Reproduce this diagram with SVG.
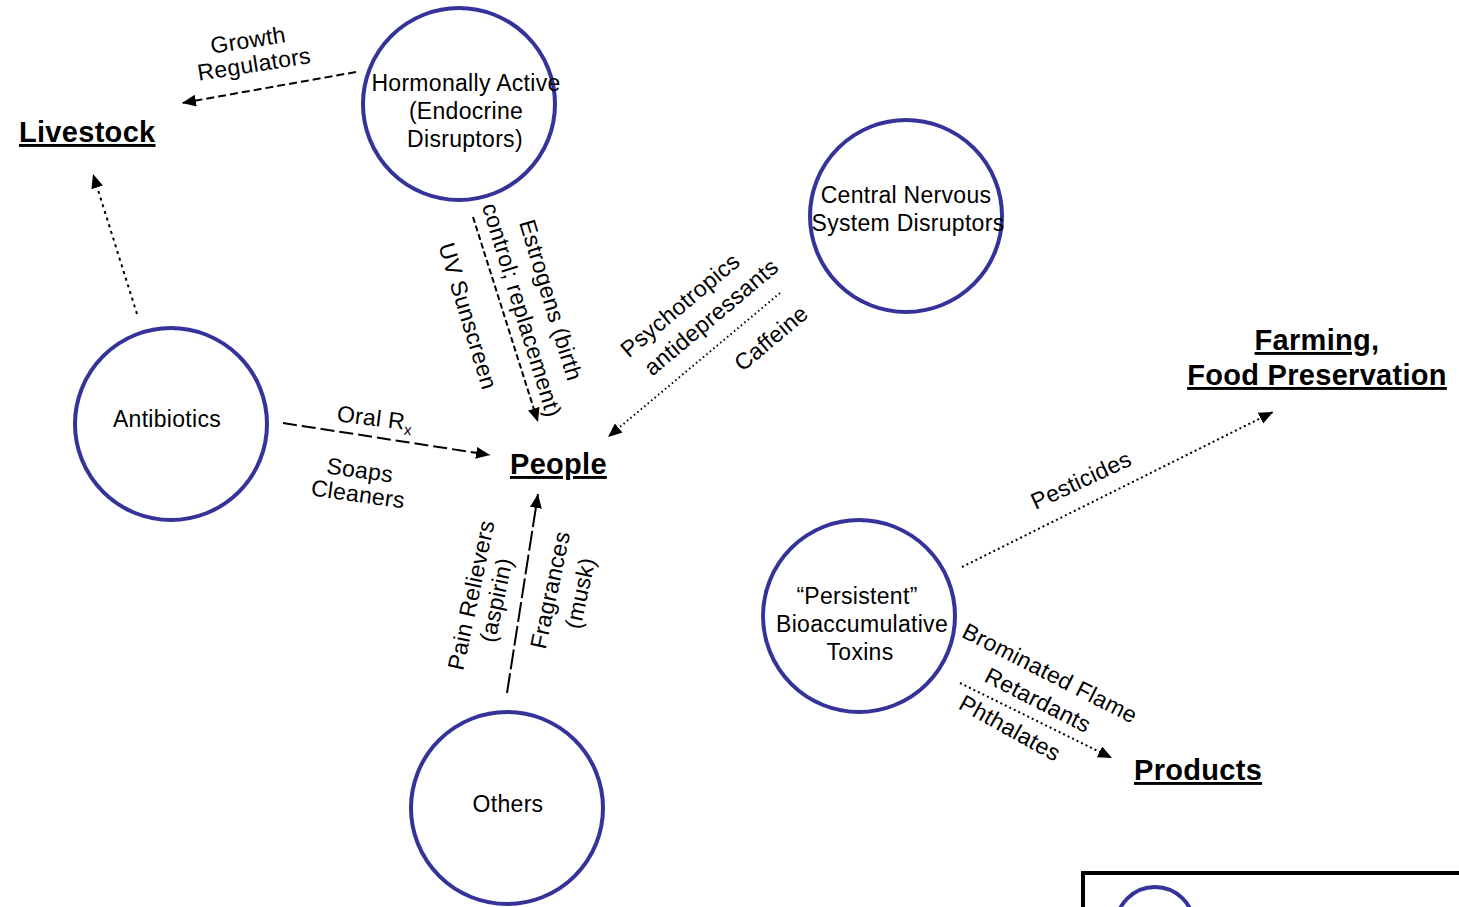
<svg xmlns="http://www.w3.org/2000/svg" width="1459" height="907" viewBox="0 0 1459 907">
<style>
.node{fill:#fff;stroke:#333399;stroke-width:4}
.t{font-family:"Liberation Sans",Arial,sans-serif;font-size:23px;fill:#000;text-anchor:middle;letter-spacing:0.3px}
.h{font-family:"Liberation Sans",Arial,sans-serif;font-size:29px;font-weight:bold;fill:#000;text-decoration:underline;letter-spacing:0.3px}
.c{fill:none;stroke:#000;stroke-width:2}
</style>
<defs>
<marker id="ah" markerUnits="userSpaceOnUse" markerWidth="16" markerHeight="14" refX="14" refY="6" orient="auto">
<path d="M0,0 L14,6 L0,12 z" fill="#000"/>
</marker>
</defs>
<rect width="1459" height="907" fill="#fff"/>
<g id="connectors">
<line class="c" x1="356" y1="72" x2="182" y2="103" stroke-dasharray="8 4" marker-end="url(#ah)"/>
<line class="c" x1="137" y1="314" x2="93" y2="174" stroke-dasharray="3 4" marker-end="url(#ah)"/>
<line class="c" x1="473" y1="217" x2="538" y2="422" stroke-dasharray="6 3" marker-end="url(#ah)"/>
<line class="c" x1="283" y1="423" x2="490" y2="455" stroke-width="2.5" stroke-dasharray="14 5" marker-end="url(#ah)"/>
<line class="c" x1="507" y1="693" x2="538" y2="494" stroke-width="2.5" stroke-dasharray="20 4" marker-end="url(#ah)"/>
<line class="c" x1="780" y1="293" x2="608" y2="437" stroke-width="1.5" stroke-dasharray="1.5 3" marker-end="url(#ah)"/>
<line class="c" x1="962" y1="567" x2="1273" y2="412" stroke-width="1.5" stroke-dasharray="2 3" marker-end="url(#ah)"/>
<line class="c" x1="960" y1="683" x2="1112" y2="758" stroke-width="1.5" stroke-dasharray="2 3" marker-end="url(#ah)"/>
</g>
<g id="labels">
<text class="t" transform="translate(248,40) rotate(-9)" y="8">Growth</text>
<text class="t" transform="translate(254,64) rotate(-9)" y="8">Regulators</text>
<text class="t" transform="translate(468,316) rotate(73)" y="8">UV Sunscreen</text>
<text class="t" transform="translate(551,300) rotate(73)" y="8">Estrogens (birth</text>
<text class="t" transform="translate(522,310) rotate(73)" y="8">control; replacement)</text>
<text class="t" transform="translate(375,418) rotate(7)" y="8">Oral R<tspan font-size="15" dy="5">x</tspan></text>
<text class="t" transform="translate(360,470) rotate(8)" y="8">Soaps</text>
<text class="t" transform="translate(358,494) rotate(8)" y="8">Cleaners</text>
<text class="t" transform="translate(471,595) rotate(-78)" y="8">Pain Relievers</text>
<text class="t" transform="translate(496,600) rotate(-78)" y="8">(aspirin)</text>
<text class="t" transform="translate(550,590) rotate(-78)" y="8">Fragrances</text>
<text class="t" transform="translate(580,593) rotate(-78)" y="8">(musk)</text>
<text class="t" transform="translate(680,305) rotate(-40)" y="8">Psychotropics</text>
<text class="t" transform="translate(711,317) rotate(-40)" y="8">antidepressants</text>
<text class="t" transform="translate(771,338) rotate(-40)" y="8">Caffeine</text>
<text class="t" transform="translate(1081,480) rotate(-25)" y="8">Pesticides</text>
<text class="t" transform="translate(1050,673) rotate(27)" y="8">Brominated Flame</text>
<text class="t" transform="translate(1038,700) rotate(27)" y="8">Retardants</text>
<text class="t" transform="translate(1010,728) rotate(29)" y="8">Phthalates</text>
</g>
<g id="livestock"><text class="h" x="19" y="142">Livestock</text></g>
<g id="people"><text class="h" x="510" y="474">People</text></g>
<g id="farming">
<text class="h" x="1317" y="350" text-anchor="middle">Farming,</text>
<text class="h" x="1317" y="385" text-anchor="middle">Food Preservation</text>
</g>
<g id="products"><text class="h" x="1134" y="780">Products</text></g>
<g id="hormonally">
<circle class="node" cx="459" cy="104" r="96"/>
<text class="t" x="466" y="91">Hormonally Active</text>
<text class="t" x="466" y="119">(Endocrine</text>
<text class="t" x="465" y="147">Disruptors)</text>
</g>
<g id="cns">
<circle class="node" cx="906" cy="216" r="96"/>
<text class="t" x="906" y="203">Central Nervous</text>
<text class="t" x="908" y="231">System Disruptors</text>
</g>
<g id="antibiotics">
<circle class="node" cx="171" cy="424" r="96"/>
<text class="t" x="167" y="427">Antibiotics</text>
</g>
<g id="persistent">
<circle class="node" cx="859" cy="616" r="96"/>
<text class="t" x="857" y="604">“Persistent”</text>
<text class="t" x="862" y="632">Bioaccumulative</text>
<text class="t" x="860" y="660">Toxins</text>
</g>
<g id="others">
<circle class="node" cx="507" cy="808" r="96"/>
<text class="t" x="508" y="812">Others</text>
</g>
<g id="legend">
<rect x="1083" y="873" width="400" height="100" fill="#fff" stroke="#000" stroke-width="4"/>
<circle class="node" cx="1155" cy="926" r="39"/>
</g>
</svg>
